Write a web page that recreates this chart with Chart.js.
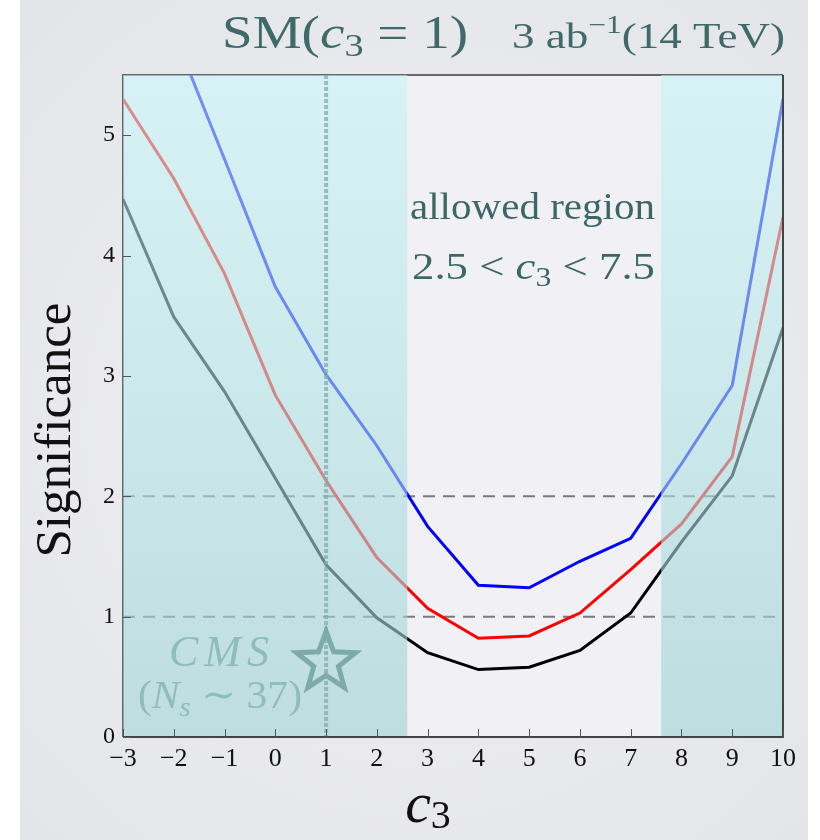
<!DOCTYPE html>
<html>
<head>
<meta charset="utf-8">
<script src="https://cdn.jsdelivr.net/npm/chart.js@4/dist/chart.umd.min.js"></script>
<style>
  html, body { margin: 0; padding: 0; background: #fff; }
  #wrap { width: 820px; height: 840px; }
</style>
</head>
<body>
<div id="wrap"><canvas id="chart" width="820" height="840"></canvas></div>
<script>
// c3 values on the x axis
const c3Values = [-3, -2, -1, 0, 1, 2, 3, 4, 5, 6, 7, 8, 9, 10];
// significance curves
const blueSig  = [null, 5.85, 4.80, 3.74, 3.01, 2.42, 1.75, 1.26, 1.24, 1.46, 1.65, 2.27, 2.92, 5.30];
const redSig   = [5.30, 4.64, 3.85, 2.84, 2.13, 1.49, 1.07, 0.82, 0.84, 1.03, 1.39, 1.77, 2.33, 4.32];
const blackSig = [4.47, 3.49, 2.87, 2.15, 1.43, 0.99, 0.70, 0.56, 0.58, 0.72, 1.03, 1.62, 2.17, 3.40];
const dashedLevels = [1, 2];
const allowedRange = [2.6, 7.6];
const smPoint = { x: 1, y: 0.62 };

const SERIF = '"Liberation Serif", "DejaVu Serif", serif';
const minus = v => (v < 0 ? '\u2212' + Math.abs(v) : String(v));

function toPoints(ys) {
  return c3Values.map((x, i) => ({ x: x, y: ys[i] })).filter(p => p.y !== null);
}

// draw a row of text pieces: [text, font, dy]; optionally stretched to a width
function drawRuns(ctx, runs, x, y, align, width) {
  let total = 0;
  runs.forEach(r => { ctx.font = r[1]; total += ctx.measureText(r[0]).width; });
  const sx = width ? width / total : 1;
  const w = total * sx;
  const left = align === 'right' ? x - w : align === 'center' ? x - w / 2 : x;
  ctx.save();
  ctx.translate(left, y);
  ctx.scale(sx, 1);
  ctx.textAlign = 'left';
  ctx.textBaseline = 'alphabetic';
  let cx = 0;
  runs.forEach(r => {
    ctx.font = r[1];
    ctx.fillText(r[0], cx, r[2] || 0);
    cx += ctx.measureText(r[0]).width;
  });
  ctx.restore();
}

function drawStar(ctx, cx, cy, R, r) {
  ctx.beginPath();
  for (let i = 0; i < 10; i++) {
    const rad = i % 2 === 0 ? R : r;
    const a = -Math.PI / 2 + i * Math.PI / 5;
    const px = cx + rad * Math.cos(a), py = cy + rad * Math.sin(a);
    if (i === 0) ctx.moveTo(px, py); else ctx.lineTo(px, py);
  }
  ctx.closePath();
  ctx.stroke();
}

const decorPlugin = {
  id: 'decor',
  beforeDraw(chart) {
    const ctx = chart.ctx, a = chart.chartArea;
    ctx.save();
    ctx.fillStyle = '#ffffff';
    ctx.fillRect(0, 0, chart.width, chart.height);
    const g = ctx.createRadialGradient(420, 430, 50, 420, 430, 620);
    g.addColorStop(0, '#efeff3');
    g.addColorStop(1, '#e3e4e8');
    ctx.fillStyle = g;
    ctx.fillRect(20, 0, 788, chart.height);
    ctx.fillStyle = '#f1f1f5';
    ctx.fillRect(a.left, a.top, a.right - a.left, a.bottom - a.top);
    ctx.restore();
  },
  beforeDatasetsDraw(chart) {
    const ctx = chart.ctx, a = chart.chartArea, ys = chart.scales.y;
    ctx.save();
    ctx.strokeStyle = '#7a7a7a';
    ctx.lineWidth = 2;
    ctx.setLineDash([12, 8]);
    dashedLevels.forEach(v => {
      const py = ys.getPixelForValue(v);
      ctx.beginPath(); ctx.moveTo(a.left, py); ctx.lineTo(a.right, py); ctx.stroke();
    });
    ctx.setLineDash([]);
    ctx.strokeStyle = '#666';
    ctx.lineWidth = 2;
    ctx.beginPath();
    ctx.moveTo(a.left, a.bottom); ctx.lineTo(a.left, a.top); ctx.lineTo(a.right, a.top);
    ctx.stroke();
    ctx.restore();
  },
  afterDatasetsDraw(chart) {
    const ctx = chart.ctx, a = chart.chartArea, xs = chart.scales.x, ys = chart.scales.y;
    ctx.save();
    // shaded (excluded) bands
    const g = ctx.createLinearGradient(0, a.top, 0, a.bottom);
    g.addColorStop(0, 'rgba(196,243,244,0.58)');
    g.addColorStop(1, 'rgba(159,209,212,0.62)');
    ctx.fillStyle = g;
    const x0 = xs.getPixelForValue(xs.min), x1 = xs.getPixelForValue(allowedRange[0]);
    const x2 = xs.getPixelForValue(allowedRange[1]), x3 = xs.getPixelForValue(xs.max);
    ctx.fillRect(x0, a.top, x1 - x0, a.bottom - a.top);
    ctx.fillRect(x2, a.top, x3 - x2, a.bottom - a.top);

    // vertical SM line
    const smx = xs.getPixelForValue(smPoint.x);
    ctx.strokeStyle = 'rgba(130,172,172,0.75)';
    ctx.lineWidth = 4;
    ctx.setLineDash([4, 2]);
    ctx.beginPath(); ctx.moveTo(smx, a.top); ctx.lineTo(smx, a.bottom); ctx.stroke();
    ctx.setLineDash([]);

    // frame bottom/right
    ctx.strokeStyle = '#444';
    ctx.lineWidth = 2;
    ctx.beginPath();
    ctx.moveTo(a.left, a.bottom); ctx.lineTo(a.right, a.bottom); ctx.lineTo(a.right, a.top);
    ctx.stroke();

    // inward ticks
    ctx.strokeStyle = '#555';
    ctx.lineWidth = 1;
    xs.ticks.forEach(t => {
      const px = Math.round(xs.getPixelForValue(t.value)) + 0.5;
      ctx.beginPath(); ctx.moveTo(px, a.bottom); ctx.lineTo(px, a.bottom - 8); ctx.stroke();
    });
    ys.ticks.forEach(t => {
      const py = Math.round(ys.getPixelForValue(t.value)) + 0.5;
      ctx.beginPath(); ctx.moveTo(a.left, py); ctx.lineTo(a.left + 8, py); ctx.stroke();
    });

    // SM star + CMS label
    ctx.strokeStyle = '#7eaaa8';
    ctx.lineWidth = 5;
    ctx.lineJoin = 'miter';
    drawStar(ctx, smx, ys.getPixelForValue(smPoint.y), 31, 13);
    ctx.fillStyle = '#8fbcbc';
    ctx.letterSpacing = '6px';
    drawRuns(ctx, [['CMS', 'italic 44px ' + SERIF]], 222, 666, 'center');
    ctx.letterSpacing = '0px';
    drawRuns(ctx, [['(', '40px ' + SERIF], ['N', 'italic 40px ' + SERIF], ['s', 'italic 28px ' + SERIF, 8],
                   [' \u223C 37)', '40px ' + SERIF]], 220, 708, 'center', 164);

    // allowed region text
    ctx.fillStyle = '#3b6767';
    drawRuns(ctx, [['allowed region', '38px ' + SERIF]], 410, 219, 'left', 245);
    drawRuns(ctx, [['2.5 < ', '38px ' + SERIF], ['c', 'italic 38px ' + SERIF], ['3', '27px ' + SERIF, 7],
                   [' < 7.5', '38px ' + SERIF]], 412, 279, 'left', 243);

    // title
    ctx.fillStyle = '#3e6a6a';
    drawRuns(ctx, [['SM(', '46px ' + SERIF], ['c', 'italic 46px ' + SERIF], ['3', '32px ' + SERIF, 8],
                   [' = 1)', '46px ' + SERIF]], 222, 48, 'left', 246);
    drawRuns(ctx, [['3 ab', '36px ' + SERIF], ['\u22121', '25px ' + SERIF, -15], ['(14 TeV)', '36px ' + SERIF]],
             785, 48, 'right', 273);

    // axis titles
    ctx.fillStyle = '#111';
    drawRuns(ctx, [['c', 'italic 58px ' + SERIF], ['3', '40px ' + SERIF, 6]], 428, 822, 'center');
    ctx.translate(70, 430);
    ctx.rotate(-Math.PI / 2);
    drawRuns(ctx, [['Significance', '50px ' + SERIF]], 0, 0, 'center', 255);
    ctx.restore();
  }
};

const ctx = document.getElementById('chart').getContext('2d');
new Chart(ctx, {
  type: 'line',
  data: {
    datasets: [
      { label: 'blue', data: toPoints(blueSig), borderColor: 'rgb(0,0,255)', borderWidth: 3, pointRadius: 0, clip: 0, tension: 0 },
      { label: 'red', data: toPoints(redSig), borderColor: 'rgb(255,0,0)', borderWidth: 3, pointRadius: 0, clip: 0, tension: 0 },
      { label: 'black', data: toPoints(blackSig), borderColor: 'rgb(0,0,0)', borderWidth: 3, pointRadius: 0, clip: 0, tension: 0 }
    ]
  },
  options: {
    responsive: false,
    animation: false,
    layout: { padding: { left: 0, top: 75, right: 37, bottom: 0 } },
    plugins: { legend: { display: false }, tooltip: { enabled: false } },
    scales: {
      x: {
        type: 'linear', min: -3, max: 10,
        afterFit: s => { s.height = 103; },
        grid: { display: false, drawTicks: false },
        border: { display: false },
        ticks: { stepSize: 1, padding: 7, color: '#111', font: { family: SERIF, size: 26 }, callback: v => minus(v) }
      },
      y: {
        min: 0, max: 5.5,
        afterFit: s => { s.width = 123; },
        afterBuildTicks: s => { s.ticks = [0, 1, 2, 3, 4, 5].map(v => ({ value: v })); },
        grid: { display: false, drawTicks: false },
        border: { display: false },
        ticks: { padding: 8, color: '#111', font: { family: SERIF, size: 24 }, callback: v => minus(v) }
      }
    }
  },
  plugins: [decorPlugin]
});
</script>
</body>
</html>
